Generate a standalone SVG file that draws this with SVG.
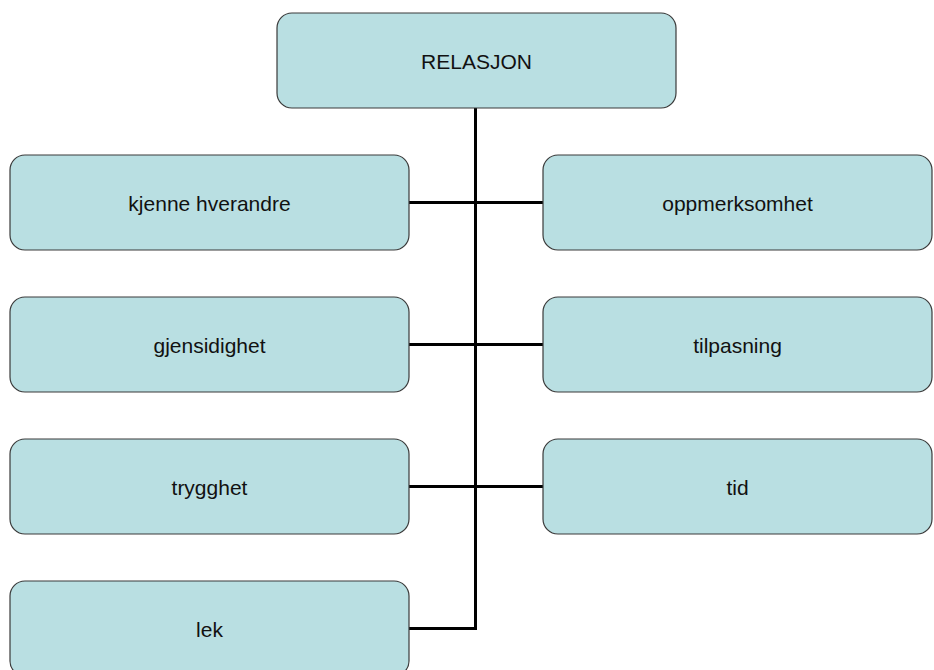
<svg xmlns="http://www.w3.org/2000/svg" width="934" height="670" viewBox="0 0 934 670">
  <style>
    .box { fill: #b9dfe2; stroke: #3a3a3a; stroke-width: 1.2; }
    .lbl { font-family: "Liberation Sans", Arial, sans-serif; font-size: 21px; fill: #111; text-anchor: middle; }
    .wire { fill: none; stroke: #000; stroke-width: 3; }
  </style>
  <rect width="934" height="670" fill="#fff"/>

  <!-- connectors -->
  <g id="connectors">
    <path class="wire" d="M475.5 107 V628.5 H409"/>
    <path class="wire" d="M409 202.5 H543"/>
    <path class="wire" d="M409 344.5 H543"/>
    <path class="wire" d="M409 486.5 H543"/>
  </g>

  <g id="relasjon">
    <rect class="box" x="277" y="13" width="399" height="95" rx="15"/>
    <text class="lbl" x="476.5" y="69">RELASJON</text>
  </g>

  <g id="kjenne-hverandre">
    <rect class="box" x="10" y="155" width="399" height="95" rx="15"/>
    <text class="lbl" x="209.5" y="211">kjenne hverandre</text>
  </g>
  <g id="oppmerksomhet">
    <rect class="box" x="543" y="155" width="389" height="95" rx="15"/>
    <text class="lbl" x="737.5" y="211">oppmerksomhet</text>
  </g>

  <g id="gjensidighet">
    <rect class="box" x="10" y="297" width="399" height="95" rx="15"/>
    <text class="lbl" x="209.5" y="353">gjensidighet</text>
  </g>
  <g id="tilpasning">
    <rect class="box" x="543" y="297" width="389" height="95" rx="15"/>
    <text class="lbl" x="737.5" y="353">tilpasning</text>
  </g>

  <g id="trygghet">
    <rect class="box" x="10" y="439" width="399" height="95" rx="15"/>
    <text class="lbl" x="209.5" y="495">trygghet</text>
  </g>
  <g id="tid">
    <rect class="box" x="543" y="439" width="389" height="95" rx="15"/>
    <text class="lbl" x="737.5" y="495">tid</text>
  </g>

  <g id="lek">
    <rect class="box" x="10" y="581" width="399" height="95" rx="15"/>
    <text class="lbl" x="209.5" y="637">lek</text>
  </g>
</svg>
